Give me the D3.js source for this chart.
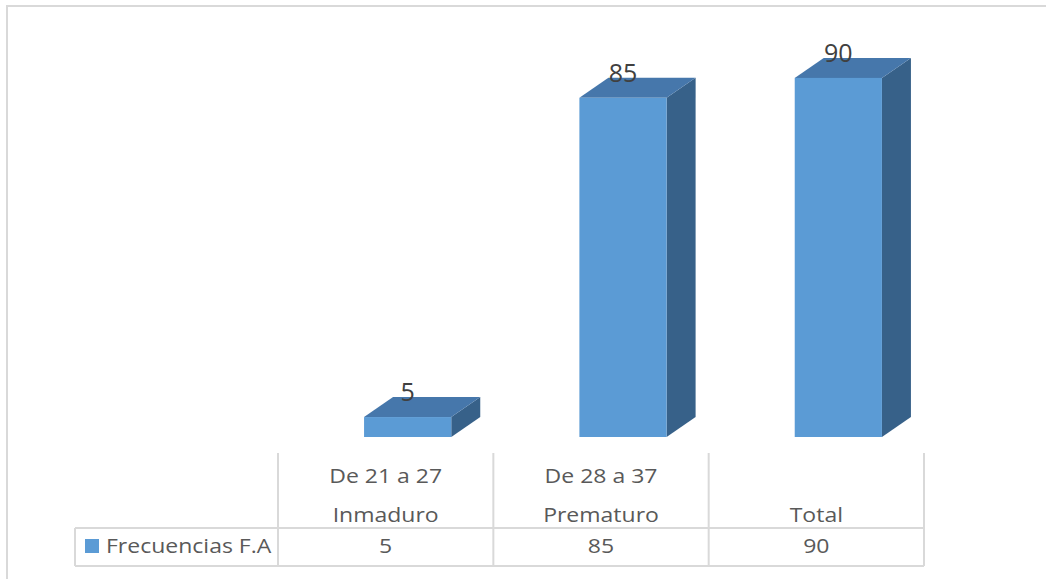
<!DOCTYPE html>
<html>
<head>
<meta charset="utf-8">
<script src="https://cdn.jsdelivr.net/npm/d3@7"></script>
<style>
  body { margin: 0; background: #fff; }
  text { font-family: "Open Sans", "Noto Sans", sans-serif; }
</style>
</head>
<body>
<svg width="1046" height="579"></svg>
<script>
// chart data
var categories = ['De 21 a 27|Inmaduro', 'De 28 a 37|Prematuro', 'Total'];
var values = [5, 85, 90];
var seriesName = 'Frecuencias F.A';

var svg = d3.select('svg');

// layout
var tableLeft = 278, tableRight = 924;
var legendLeft = 75;
var baseY = 437;
var depth = {x: 29, y: 20};
var tableFont = 20, stretch = 1.15;

var colors = {front: '#5b9bd5', top: '#4677ab', side: '#376189', grid: '#d9d9d9', text: '#595959', label: '#404040'};

// text helper: stretched horizontally like the original
function addText(x, y, str, anchor) {
    return svg.append('text')
        .attr('transform', 'translate(' + [x, y] + ')scale(' + stretch + ',1)')
        .attr('text-anchor', anchor || 'middle')
        .attr('font-size', tableFont)
        .attr('fill', colors.text)
        .text(str);
}

// outer frame (only top and left visible)
svg.append('path')
    .attr('d', 'M7,579V6H1046')
    .attr('fill', 'none')
    .attr('stroke', colors.grid)
    .attr('stroke-width', 2);

var xScale = d3.scaleBand().domain(categories).range([tableLeft, tableRight]);
var yScale = d3.scaleLinear().domain([0, 100]).range([baseY, baseY - 399]);

var barW = xScale.bandwidth() * 0.405;
var shift = 22;

var bars = svg.selectAll('.bar')
    .data(categories)
    .enter()
    .append('g')
    .attr('class', 'bar');

bars.each(function(cat, i) {
    var g = d3.select(this);
    var x0 = xScale(cat) + xScale.bandwidth() / 2 - barW / 2 + shift;
    var x1 = x0 + barW;
    var yT = yScale(values[i]);
    var yB = yScale(0);

    // side face
    g.append('path')
        .attr('d', 'M' + [x1, yT] + 'L' + [x1 + depth.x, yT - depth.y] + 'L' + [x1 + depth.x, yB - depth.y] + 'L' + [x1, yB] + 'Z')
        .attr('fill', colors.side);
    // top face
    g.append('path')
        .attr('d', 'M' + [x0, yT] + 'L' + [x0 + depth.x, yT - depth.y] + 'L' + [x1 + depth.x, yT - depth.y] + 'L' + [x1, yT] + 'Z')
        .attr('fill', colors.top);
    // front face
    g.append('rect')
        .attr('x', x0)
        .attr('y', yT)
        .attr('width', barW)
        .attr('height', yB - yT)
        .attr('fill', colors.front);
    // data label
    g.append('text')
        .attr('x', (x0 + x1) / 2)
        .attr('y', yT - depth.y + 4)
        .attr('text-anchor', 'middle')
        .attr('font-size', 25)
        .attr('fill', colors.label)
        .text(values[i]);
});

// data table
var headTop = 453, rowTop = 528, rowBottom = 566;
var table = svg.append('g').attr('stroke', colors.grid).attr('stroke-width', 2).attr('fill', 'none');

var colEdges = categories.map(function(c) { return xScale(c); }).concat([tableRight]);
colEdges.forEach(function(x) {
    table.append('line').attr('x1', x).attr('x2', x).attr('y1', headTop).attr('y2', rowBottom);
});
table.append('line').attr('x1', legendLeft).attr('x2', tableRight).attr('y1', rowTop).attr('y2', rowTop);
table.append('line').attr('x1', legendLeft).attr('x2', tableRight).attr('y1', rowBottom).attr('y2', rowBottom);
table.append('line').attr('x1', legendLeft).attr('x2', legendLeft).attr('y1', rowTop).attr('y2', rowBottom);

// header labels
categories.forEach(function(cat) {
    var lines = cat.split('|');
    var cx = xScale(cat) + xScale.bandwidth() / 2;
    lines.reverse().forEach(function(line, j) {
        addText(cx, 522 - j * 39, line);
    });
});

// values row
values.forEach(function(v, i) {
    addText(xScale(categories[i]) + xScale.bandwidth() / 2, 553, v);
});

// legend key
svg.append('rect')
    .attr('x', 85).attr('y', 539)
    .attr('width', 14).attr('height', 14)
    .attr('fill', colors.front);
addText(106, 553, seriesName, 'start');
</script>
</body>
</html>
